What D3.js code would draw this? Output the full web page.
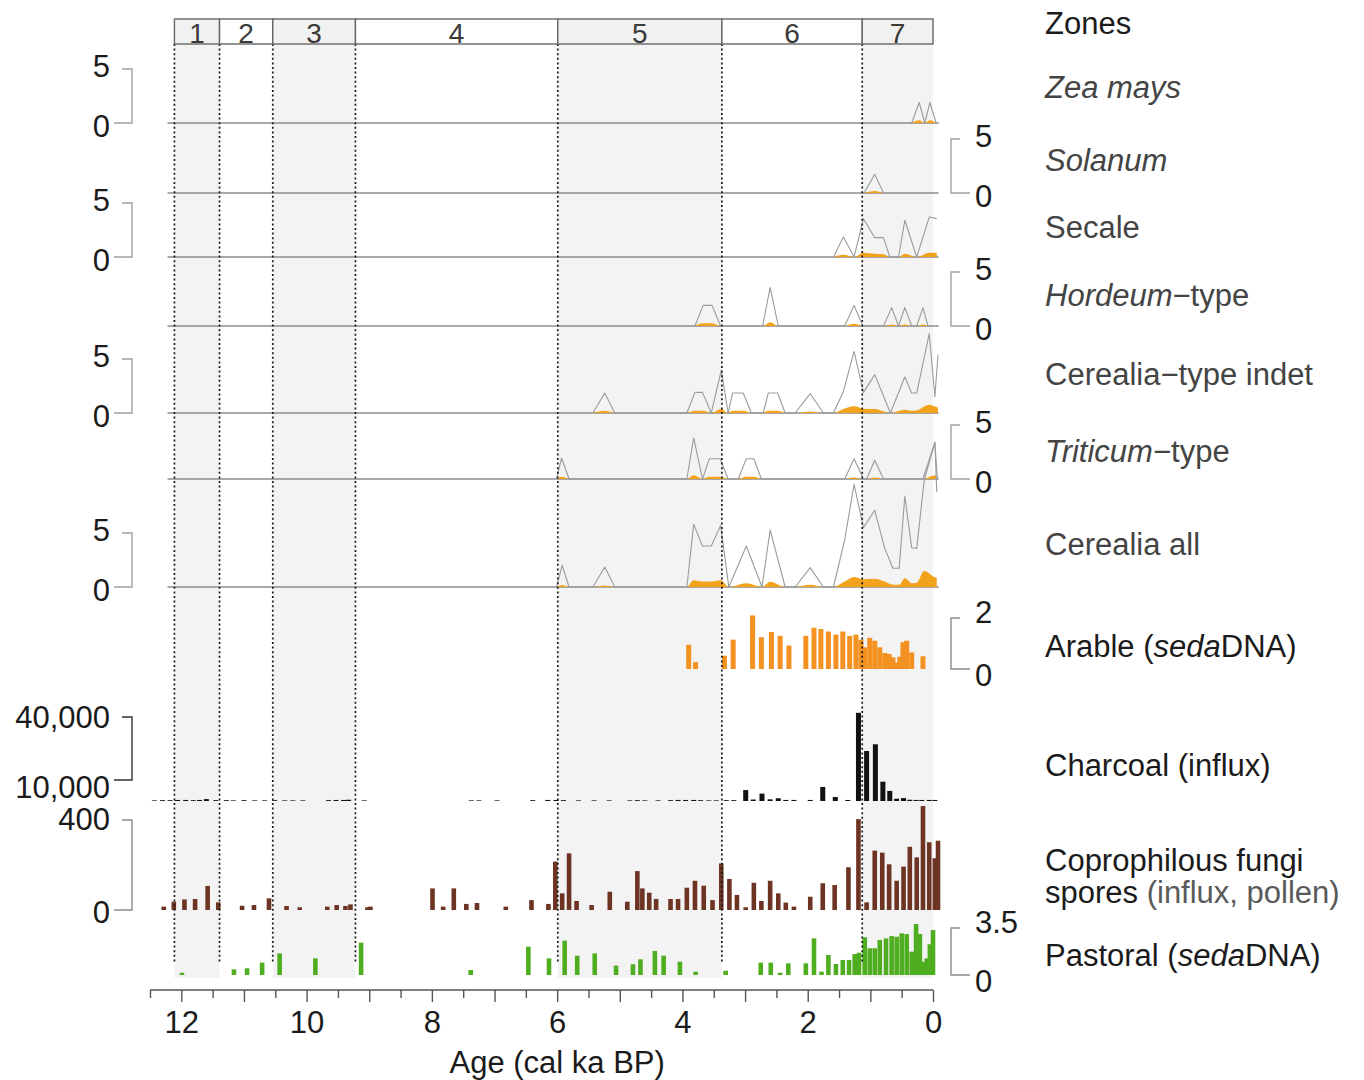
<!DOCTYPE html>
<html>
<head>
<meta charset="utf-8">
<script src="https://cdn.jsdelivr.net/npm/d3@7"></script>
<style>
  body { margin: 0; background: #fff; }
  text { font-family: "Liberation Sans", Arial, Helvetica, sans-serif; }
</style>
</head>
<body>
<svg id="chart" width="1364" height="1080"></svg>
<script>
// ---------- Zones (cal ka BP) ----------
const zoneNames  = ["1", "2", "3", "4", "5", "6", "7"];
const zoneEdges  = [12.11, 11.39, 10.54, 9.22, 5.99, 3.37, 1.13, 0];
const zoneShaded = [true, false, true, false, true, false, true];

// ---------- Age axis ----------
const ageTicks   = [12, 11, 10, 9, 8, 7, 6, 5, 4, 3, 2, 1, 0];
const ageLabels  = [12, 10, 8, 6, 4, 2, 0];
const ageMinor   = [12.5, 11.5, 10.5, 9.5, 8.5, 7.5, 6.5, 5.5, 4.5, 3.5, 2.5, 1.5, 0.5];

// ---------- Pollen (%): ages, exaggerated outline, percentage fill ----------
const zeaAge  = [0.34, 0.22, 0.13, 0.05, -0.05];
const zeaExag = [0, 1.9, 0, 1.9, 0];
const zeaPct  = [0, 0.25, 0, 0.25, 0];

const solanumAge  = [1.10, 0.93, 0.79];
const solanumExag = [0, 1.73, 0];
const solanumPct  = [0, 0.19, 0];

const secaleAge  = [1.59, 1.43, 1.26, 1.11, 0.93, 0.79, 0.69, 0.55, 0.45, 0.26, 0.06, -0.06];
const secaleExag = [0, 1.85, 0, 3.55, 1.79, 1.79, 0, 0, 3.4, 0, 3.7, 3.55];
const secalePct  = [0, 0.2, 0, 0.4, 0.3, 0.25, 0, 0, 0.3, 0, 0.4, 0.4];

const hordeumAge  = [3.80, 3.67, 3.53, 3.39, 2.72, 2.60, 2.47, 1.41, 1.26, 1.12, 0.79, 0.66, 0.55, 0.45, 0.34, 0.26, 0.16, 0.08];
const hordeumExag = [0, 1.91, 1.91, 0, 0, 3.55, 0, 0, 1.91, 0, 0, 1.7, 0, 1.7, 0, 0, 1.7, 0];
const hordeumPct  = [0, 0.25, 0.25, 0, 0, 0.35, 0, 0, 0.2, 0, 0, 0.15, 0, 0.15, 0, 0, 0.15, 0];

const cerIndAge  = [5.43, 5.24, 5.08, 3.93, 3.80, 3.68, 3.54, 3.38, 3.27, 3.20, 3.03, 2.90, 2.71, 2.63, 2.48, 2.36,
                    2.20, 1.96, 1.75, 1.59, 1.43, 1.26, 1.11, 0.93, 0.68, 0.45, 0.34, 0.26, 0.06, -0.03, -0.08];
const cerIndExag = [0, 1.85, 0, 0, 1.91, 1.91, 0, 3.95, 0, 1.85, 1.85, 0, 0, 1.85, 1.85, 0,
                    0, 1.8, 0, 0, 2.0, 5.7, 1.91, 3.55, 0, 3.33, 1.85, 1.85, 7.34, 1.5, 5.4];
const cerIndPct  = [0, 0.2, 0, 0, 0.2, 0.2, 0, 0.37, 0, 0.2, 0.2, 0, 0, 0.2, 0.2, 0,
                    0, 0.15, 0, 0, 0.37, 0.62, 0.4, 0.37, 0, 0.3, 0.2, 0.25, 0.77, 0.6, 0.5];

const triticumAge  = [6.01, 5.93, 5.81, 3.93, 3.82, 3.68, 3.57, 3.40, 3.27, 3.11, 2.98, 2.86, 2.74, 1.41, 1.26,
                      1.11, 1.06, 0.93, 0.79, 0.16, -0.03, -0.07];
const triticumExag = [0, 1.94, 0, 0, 3.8, 0, 1.88, 1.88, 0, 0, 1.88, 1.88, 0, 0, 1.88,
                      0, 0, 1.73, 0, 0, 3.4, 0];
const triticumPct  = [0, 0.2, 0, 0, 0.34, 0, 0.2, 0.2, 0, 0, 0.2, 0.2, 0, 0, 0.15,
                      0, 0, 0.15, 0, 0, 0.34, 0];

const cerAllAge  = [6.01, 5.92, 5.81, 5.43, 5.24, 5.08, 3.93, 3.82, 3.68, 3.54, 3.39, 3.26, 2.98, 2.73, 2.60, 2.36,
                    2.20, 1.96, 1.75, 1.59, 1.41, 1.26, 1.11, 0.93, 0.77, 0.64, 0.54, 0.45, 0.34, 0.26, 0.14, -0.03, -0.06];
const cerAllExag = [0, 2.0, 0, 0, 1.85, 0, 0, 5.8, 3.8, 3.8, 5.7, 0, 3.8, 0, 5.28, 0,
                    0, 1.79, 0, 0, 4.35, 9.5, 5.5, 7.1, 3.58, 1.73, 1.73, 8.4, 3.64, 3.58, 9.9, 13.4, 8.8];
const cerAllPct  = [0, 0.18, 0, 0, 0.15, 0, 0, 0.62, 0.5, 0.5, 0.62, 0, 0.34, 0, 0.49, 0,
                    0, 0.2, 0, 0, 0.5, 0.93, 0.71, 0.77, 0.5, 0.2, 0.2, 0.8, 0.35, 0.4, 1.48, 0.9, 0.85];

// ---------- Arable sedaDNA ----------
const arableAge = [3.90, 3.79, 3.33, 3.19, 2.88, 2.74, 2.58, 2.44, 2.30, 2.03, 1.90, 1.79, 1.67, 1.55, 1.44, 1.33,
                   1.23, 1.15, 1.09, 1.01, 0.93, 0.85, 0.77, 0.70, 0.64, 0.58, 0.53, 0.48, 0.42, 0.34, 0.16];
const arableVal = [0.95, 0.27, 0.52, 1.15, 2.1, 1.25, 1.45, 1.3, 0.92, 1.3, 1.62, 1.57, 1.47, 1.35, 1.47, 1.3,
                   1.35, 1.15, 0.85, 1.22, 1.11, 0.85, 0.63, 0.59, 0.46, 0.26, 0.48, 1.05, 1.11, 0.65, 0.5];

// ---------- Charcoal influx ----------
const charAge = [12.43, 12.30, 12.18, 12.06, 11.93, 11.81, 11.71, 11.60, 11.45, 11.28, 11.17, 11.00, 10.83, 10.67,
                 10.51, 10.35, 10.22, 10.06, 9.65, 9.53, 9.41, 9.33, 9.08, 7.37, 7.25, 6.96, 6.39, 6.15, 6.02,
                 5.90, 5.66, 5.41, 5.17, 4.84, 4.72, 4.60, 4.39, 4.19, 4.07, 3.95, 3.82, 3.71, 3.58, 3.46, 3.30,
                 3.18, 2.99, 2.87, 2.73, 2.60, 2.47, 2.35, 2.22, 1.96, 1.76, 1.56, 1.36, 1.19, 1.06, 0.92, 0.80,
                 0.69, 0.58, 0.47, 0.37, 0.27, 0.18, 0.06, -0.03];
const charVal = [300, 400, 400, 500, 500, 400, 500, 900, 400, 400, 300, 400, 300, 300,
                 400, 300, 300, 300, 400, 500, 500, 600, 300, 300, 300, 300, 400, 500, 500,
                 400, 300, 300, 300, 300, 400, 300, 300, 400, 500, 500, 500, 400, 300, 300, 400,
                 400, 5200, 700, 3500, 800, 1300, 500, 500, 500, 6700, 1900, 500, 42000, 23800, 27000, 9200,
                 4800, 1100, 1400, 600, 500, 500, 500, 500];

// ---------- Coprophilous fungi spores ----------
const fungiAge = [12.28, 12.12, 11.95, 11.78, 11.58, 11.41, 11.03, 10.84, 10.60, 10.32, 10.11, 9.67, 9.52, 9.38,
                  9.30, 9.03, 8.98, 7.99, 7.82, 7.65, 7.45, 7.28, 6.82, 6.41, 6.14, 6.03, 5.92, 5.81, 5.69,
                  5.45, 5.16, 4.88, 4.72, 4.64, 4.53, 4.42, 4.19, 4.07, 3.93, 3.80, 3.66, 3.52, 3.38, 3.25,
                  3.13, 2.99, 2.86, 2.74, 2.60, 2.47, 2.35, 2.22, 1.96, 1.76, 1.57, 1.35, 1.19, 1.06, 0.93,
                  0.81, 0.70, 0.58, 0.47, 0.37, 0.26, 0.16, 0.06, -0.03, -0.08];
const fungiVal = [15, 37, 47, 49, 107, 34, 19, 22, 52, 18, 12, 15, 22, 18,
                  25, 12, 15, 96, 15, 96, 27, 31, 15, 44, 27, 215, 74, 252, 40,
                  22, 81, 37, 173, 96, 77, 49, 49, 49, 99, 130, 108, 44, 207, 138,
                  67, 12, 121, 40, 130, 74, 33, 15, 59, 119, 111, 190, 404, 34, 264,
                  255, 203, 130, 193, 281, 234, 462, 301, 230, 308];

// ---------- Pastoral sedaDNA ----------
const pastAge = [11.99, 11.16, 10.95, 10.71, 10.43, 9.86, 9.13, 7.38, 6.46, 6.13, 5.88, 5.68, 5.40, 5.06, 4.79,
                 4.67, 4.44, 4.30, 4.04, 3.79, 3.31, 2.75, 2.59, 2.44, 2.31, 2.03, 1.90, 1.78, 1.67, 1.55,
                 1.44, 1.34, 1.25, 1.18, 1.09, 1.01, 0.93, 0.85, 0.75, 0.66, 0.58, 0.50, 0.42, 0.34, 0.27,
                 0.21, 0.15, 0.10, 0.05, 0.00];
const pastVal = [0.17, 0.42, 0.5, 0.92, 1.61, 1.24, 2.41, 0.37, 2.11, 1.24, 2.56, 1.44, 1.61, 0.7, 0.8,
                 1.17, 1.79, 1.44, 0.99, 0.25, 0.32, 0.92, 0.92, 0.17, 0.87, 0.87, 2.73, 0.25, 1.49, 0.82,
                 1.12, 1.12, 1.56, 1.66, 2.81, 1.99, 1.99, 2.61, 2.73, 2.9, 2.85, 3.1, 3.05, 1.74, 3.8,
                 3.05, 0.99, 1.24, 2.29, 3.35];

// ---------- Drawing ----------
const svg = d3.select("#chart");
const x = d3.scaleLinear().domain([12.5, 0]).range([150, 933]);

const TXT = "#1b1b1b";
const FS = 31;
const yHeadTop = 19, yHeadBot = 44, yShadeBot = 978, yDotBot = 962;
const lineStart = 12.22, lineEnd = -0.09;

// zone shading
const zones = zoneNames.map((n, i) => ({ name: n, a0: zoneEdges[i], a1: zoneEdges[i + 1], shaded: zoneShaded[i] }));
svg.append("g").selectAll("rect").data(zones.filter(z => z.shaded)).join("rect")
  .attr("x", d => x(d.a0)).attr("width", d => x(d.a1) - x(d.a0))
  .attr("y", yHeadBot).attr("height", yShadeBot - yHeadBot)
  .attr("fill", "#f3f3f3");

const gPanels = svg.append("g");
const gBars = svg.append("g");
const gDots = svg.append("g");
const gText = svg.append("g");

// scale bracket; side = "left" | "right"; topOff/botOff push the labels away from the bracket ends
function bracket(yTopV, yBot, side, topLabel, botLabel, color, topOff, botOff) {
  const g = gText.append("g");
  if (side === "left") {
    const vx = 132;
    g.append("path")
      .attr("d", `M${vx - 10},${yTopV}H${vx}V${yBot}H${vx - 18}`)
      .attr("fill", "none").attr("stroke", color).attr("stroke-width", 1.4);
    g.append("text").attr("x", 110).attr("y", yTopV - topOff).attr("dy", "0.35em")
      .attr("text-anchor", "end").attr("font-size", FS).attr("fill", TXT).text(topLabel);
    g.append("text").attr("x", 110).attr("y", yBot + botOff).attr("dy", "0.35em")
      .attr("text-anchor", "end").attr("font-size", FS).attr("fill", TXT).text(botLabel);
  } else {
    const vx = 951;
    g.append("path")
      .attr("d", `M${vx + 9},${yTopV}H${vx}V${yBot}H${vx + 19}`)
      .attr("fill", "none").attr("stroke", color).attr("stroke-width", 1.4);
    g.append("text").attr("x", 975).attr("y", yTopV - topOff).attr("dy", "0.35em")
      .attr("font-size", FS).attr("fill", TXT).text(topLabel);
    g.append("text").attr("x", 975).attr("y", yBot + botOff).attr("dy", "0.35em")
      .attr("font-size", FS).attr("fill", TXT).text(botLabel);
  }
}

// ---------- Pollen panels ----------
const pollenPanels = [
  { age: zeaAge,      exag: zeaExag,      pct: zeaPct,      base: 123, side: "left" },
  { age: solanumAge,  exag: solanumExag,  pct: solanumPct,  base: 193, side: "right" },
  { age: secaleAge,   exag: secaleExag,   pct: secalePct,   base: 257, side: "left" },
  { age: hordeumAge,  exag: hordeumExag,  pct: hordeumPct,  base: 326, side: "right" },
  { age: cerIndAge,   exag: cerIndExag,   pct: cerIndPct,   base: 413, side: "left" },
  { age: triticumAge, exag: triticumExag, pct: triticumPct, base: 479, side: "right" },
  { age: cerAllAge,   exag: cerAllExag,   pct: cerAllPct,   base: 587, side: "left" }
];

pollenPanels.forEach(p => {
  const y = d3.scaleLinear().domain([0, 5]).range([p.base, p.base - 54]);
  const pts = p.age.map((a, i) => ({ a, e: p.exag[i], v: p.pct[i] }));

  gPanels.append("line")
    .attr("x1", x(lineStart)).attr("x2", x(lineEnd))
    .attr("y1", p.base).attr("y2", p.base)
    .attr("stroke", "#8c8c8c").attr("stroke-width", 1.6);

  gPanels.append("path").datum(pts)
    .attr("d", d3.area().x(d => x(d.a)).y0(p.base).y1(d => y(d.v)).curve(d3.curveMonotoneX))
    .attr("fill", "#f2a21b");

  gPanels.append("path").datum(pts)
    .attr("d", d3.line().x(d => x(d.a)).y(d => y(d.e)))
    .attr("fill", "none").attr("stroke", "#9b9b9b").attr("stroke-width", 1.1)
    .attr("stroke-linejoin", "round");

  bracket(y(5), y(0), p.side, "5", "0", "#a0a0a0", 3, 3);
});

// ---------- Bar panels ----------
function bars(ages, vals, y, base, w, color) {
  gBars.append("g").selectAll("rect").data(ages.map((a, i) => ({ a, v: vals[i] }))).join("rect")
    .attr("x", d => x(d.a) - w / 2).attr("width", w)
    .attr("y", d => y(d.v)).attr("height", d => base - y(d.v))
    .attr("fill", color);
}

// Arable sedaDNA
const yArable = d3.scaleLinear().domain([0, 2]).range([669, 618]);
bars(arableAge, arableVal, yArable, 669, 5, "#f39220");
bracket(yArable(2), yArable(0), "right", "2", "0", "#8a8a8a", 6, 6);

// Charcoal influx
const yChar = d3.scaleLinear().domain([0, 40000]).range([801, 717]);
bars(charAge, charVal, yChar, 801, 5, "#111");
bracket(yChar(40000), yChar(10000), "left", "40,000", "10,000", "#333", 0, 7);

// Coprophilous fungi
const yFungi = d3.scaleLinear().domain([0, 400]).range([910, 820]);
bars(fungiAge, fungiVal, yFungi, 910, 4.6, "#6d3424");
bracket(yFungi(400), yFungi(0), "left", "400", "0", "#8a8a8a", 1, 2);

// Pastoral sedaDNA
const yPast = d3.scaleLinear().domain([0, 3.5]).range([975, 928]);
bars(pastAge, pastVal, yPast, 975, 4.6, "#4fae20");
bracket(yPast(3.5), yPast(0), "right", "3.5", "0", "#8a8a8a", 6, 6);

// ---------- Zone boundaries (dotted) ----------
gDots.selectAll("line").data(zoneEdges.slice(0, 7)).join("line")
  .attr("x1", d => x(d)).attr("x2", d => x(d))
  .attr("y1", yHeadBot).attr("y2", yDotBot)
  .attr("stroke", "#1a1a1a").attr("stroke-width", 1.7)
  .attr("stroke-dasharray", "2,2.6");

// ---------- Zone header ----------
const gHead = svg.append("g");
gHead.selectAll("rect").data(zones).join("rect")
  .attr("x", d => x(d.a0)).attr("width", d => x(d.a1) - x(d.a0))
  .attr("y", yHeadTop).attr("height", yHeadBot - yHeadTop)
  .attr("fill", d => d.shaded ? "#f1f1f1" : "#fff")
  .attr("stroke", "#666").attr("stroke-width", 1.4);
gHead.selectAll("text").data(zones).join("text")
  .attr("x", d => (x(d.a0) + x(d.a1)) / 2).attr("y", (yHeadTop + yHeadBot) / 2 + 1)
  .attr("dy", "0.36em").attr("text-anchor", "middle")
  .attr("font-size", 28).attr("fill", "#3a3a3a").text(d => d.name);

// ---------- Age axis ----------
const axisY = 990;
const gAxis = svg.append("g").attr("transform", `translate(0,${axisY})`);
gAxis.call(d3.axisBottom(x).tickValues(ageTicks).tickSize(12).tickPadding(9)
  .tickFormat(d => ageLabels.includes(d) ? d3.format("d")(d) : ""));
gAxis.select(".domain").attr("d", `M${x(12.5)},0H${x(0)}`).attr("stroke", "#555").attr("stroke-width", 1.5);
gAxis.selectAll(".tick line").attr("stroke", "#555").attr("stroke-width", 1.4);
gAxis.selectAll(".tick text").attr("font-size", FS).attr("fill", TXT)
  .attr("font-family", '"Liberation Sans", Arial, sans-serif');
const gMinor = svg.append("g").attr("transform", `translate(0,${axisY})`);
gMinor.call(d3.axisBottom(x).tickValues(ageMinor).tickSize(8).tickFormat(""));
gMinor.select(".domain").remove();
gMinor.selectAll(".tick line").attr("stroke", "#555").attr("stroke-width", 1.4);

svg.append("text").attr("x", x(6)).attr("y", 1062).attr("dy", "0.35em")
  .attr("text-anchor", "middle").attr("font-size", FS).attr("fill", TXT)
  .text("Age (cal ka BP)");

// ---------- Panel names ----------
const names = [
  { y: 23,  parts: [["Zones", false]] },
  { y: 87,  parts: [["Zea mays", true]], color: "#444" },
  { y: 160, parts: [["Solanum", true]], color: "#444" },
  { y: 227, parts: [["Secale", false]], color: "#444" },
  { y: 295, parts: [["Hordeum", true], ["\u2212type", false]], color: "#444" },
  { y: 374, parts: [["Cerealia\u2212type indet", false]], color: "#444" },
  { y: 451, parts: [["Triticum", true], ["\u2212type", false]], color: "#444" },
  { y: 544, parts: [["Cerealia all", false]], color: "#444" },
  { y: 646, parts: [["Arable (", false], ["seda", true], ["DNA)", false]] },
  { y: 765, parts: [["Charcoal (influx)", false]] },
  { y: 860, parts: [["Coprophilous fungi", false]] },
  { y: 892, parts: [["spores ", false], ["(influx, pollen)", false, "#5a5a5a"]] },
  { y: 955, parts: [["Pastoral (", false], ["seda", true], ["DNA)", false]] }
];
names.forEach(n => {
  const t = gText.append("text").attr("x", 1045).attr("y", n.y).attr("dy", "0.35em")
    .attr("font-size", FS).attr("fill", n.color || TXT);
  n.parts.forEach(([s, it, c]) => {
    const ts = t.append("tspan").text(s);
    if (it) ts.attr("font-style", "italic");
    if (c) ts.attr("fill", c);
  });
});
</script>
</body>
</html>
